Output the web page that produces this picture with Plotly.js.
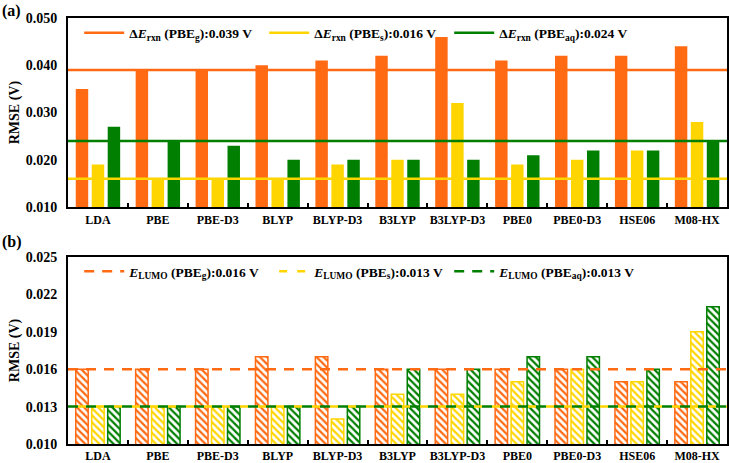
<!DOCTYPE html>
<html><head><meta charset="utf-8">
<script src="https://cdn.plot.ly/plotly-3.0.1.min.js"></script>
<style>html,body{margin:0;padding:0;background:#fff}#chart{width:729px;height:463px}</style>
</head><body><div id="chart"></div>
<script>
const categories = ['LDA','PBE','PBE-D3','BLYP','BLYP-D3','B3LYP','B3LYP-D3','PBE0','PBE0-D3','HSE06','M08-HX'];
// Panel (a): ΔE_rxn RMSE (V)
const rxnPBEg  = [0.035,0.039,0.039,0.040,0.041,0.042,0.046,0.041,0.042,0.042,0.044];
const rxnPBEs  = [0.019,0.016,0.016,0.016,0.019,0.020,0.032,0.019,0.020,0.022,0.028];
const rxnPBEaq = [0.027,0.024,0.023,0.020,0.020,0.020,0.020,0.021,0.022,0.022,0.024];
const rxnRef   = [0.039,0.016,0.024];
// Panel (b): E_LUMO RMSE (V)
const lumoPBEg  = [0.016,0.016,0.016,0.017,0.017,0.016,0.016,0.016,0.016,0.015,0.015];
const lumoPBEs  = [0.013,0.013,0.013,0.013,0.012,0.014,0.014,0.015,0.016,0.015,0.019];
const lumoPBEaq = [0.013,0.013,0.013,0.013,0.013,0.016,0.016,0.017,0.017,0.016,0.021];
const lumoRef   = [0.016,0.013,0.013];
const refNamesA = ['Δ<i>E</i><sub>rxn</sub> (PBE<sub>g</sub>):0.039 V','Δ<i>E</i><sub>rxn</sub> (PBE<sub>s</sub>):0.016 V','Δ<i>E</i><sub>rxn</sub> (PBE<sub>aq</sub>):0.024 V'];
const refNamesB = ['<i>E</i><sub>LUMO</sub> (PBE<sub>g</sub>):0.016 V','<i>E</i><sub>LUMO</sub> (PBE<sub>s</sub>):0.013 V','<i>E</i><sub>LUMO</sub> (PBE<sub>aq</sub>):0.013 V'];

const colors = ['#FF6A13','#FFD500','#007F00'];
const FONT = 'Liberation Serif, Times New Roman, serif';

const traces = [];
[rxnPBEg, rxnPBEs, rxnPBEaq].forEach((v,i)=>{
  traces.push({type:'bar', x:categories, y:v, xaxis:'x', yaxis:'y', showlegend:false,
    marker:{color:colors[i], line:{width:0}}});
});
[lumoPBEg, lumoPBEs, lumoPBEaq].forEach((v,i)=>{
  traces.push({type:'bar', x:categories, y:v, xaxis:'x2', yaxis:'y2', showlegend:false,
    marker:{color:'#ffffff', line:{color:colors[i], width:1.5},
      pattern:{shape:'\\', fgcolor:colors[i], bgcolor:'#ffffff', size:5, solidity:0.45}}});
});
rxnRef.forEach((v,i)=>{
  traces.push({type:'scatter', mode:'lines', x:[0,1], y:[v,v], xaxis:'x3', yaxis:'y',
    name:refNamesA[i], legend:'legend', line:{color:colors[i], width:2.5}});
});
const dashes = ['10px,8px','0px,10px,8px,0px','10px,8px'];
lumoRef.forEach((v,i)=>{
  traces.push({type:'scatter', mode:'lines', x:[0,1], y:[v,v], xaxis:'x4', yaxis:'y2',
    name:refNamesB[i], legend:'legend2', line:{color:colors[i], width:2.5, dash:dashes[i]}});
});

const xcommon = {type:'category', showline:true, linecolor:'#000', linewidth:2, mirror:true,
  ticks:'inside', tickson:'boundaries', ticklen:4, tickwidth:2, tickcolor:'#000', tickangle:0,
  showgrid:false, tickfont:{family:FONT, size:12, weight:'bold', color:'#000'}};
const ycommon = {showline:true, linecolor:'#000', linewidth:2, mirror:true, ticks:'',
  showgrid:false, zeroline:false, tickformat:'.3f', ticklabelstandoff:6,
  tickfont:{family:FONT, size:14, weight:'bold', color:'#000'},
  title:{text:'RMSE (V)', font:{family:FONT, size:14, weight:'bold', color:'#000'}, standoff:3}};
const legcommon = {orientation:'h', xanchor:'left', yanchor:'middle', bgcolor:'rgba(0,0,0,0)',
  font:{family:FONT, size:13.5, weight:'bold', color:'#000'}, entrywidth:130, entrywidthmode:'pixels',
  tracegroupgap:0, itemwidth:40};

const layout = {
  width:729, height:463, margin:{l:68, r:2, t:18, b:19},
  paper_bgcolor:'#fff', plot_bgcolor:'#fff', showlegend:true,
  barmode:'group', bargap:0.2, bargroupgap:0.22,
  xaxis:Object.assign({}, xcommon, {domain:[0,1], anchor:'y'}),
  yaxis:Object.assign({}, ycommon, {domain:[0.556,1], anchor:'x', range:[0.010,0.050], dtick:0.01, tick0:0.010}),
  xaxis2:Object.assign({}, xcommon, {domain:[0,1], anchor:'y2'}),
  yaxis2:Object.assign({}, ycommon, {domain:[0,0.439], anchor:'x2', range:[0.010,0.025], dtick:0.003, tick0:0.010}),
  xaxis3:{overlaying:'x', anchor:'y', range:[0,1], visible:false, fixedrange:true},
  xaxis4:{overlaying:'x2', anchor:'y2', range:[0,1], visible:false, fixedrange:true},
  legend:Object.assign({}, legcommon, {x:0.017, y:0.965}),
  legend2:Object.assign({}, legcommon, {x:0.017, y:0.405}),
  annotations:[
    {text:'(a)', xref:'paper', yref:'paper', x:-0.103, y:1.043, xanchor:'left', yanchor:'top', showarrow:false,
     font:{family:FONT, size:16, weight:'bold', color:'#000'}},
    {text:'(b)', xref:'paper', yref:'paper', x:-0.103, y:0.50, xanchor:'left', yanchor:'top', showarrow:false,
     font:{family:FONT, size:16, weight:'bold', color:'#000'}}
  ]
};
Plotly.newPlot('chart', traces, layout, {displayModeBar:false, staticPlot:true});
</script></body></html>
